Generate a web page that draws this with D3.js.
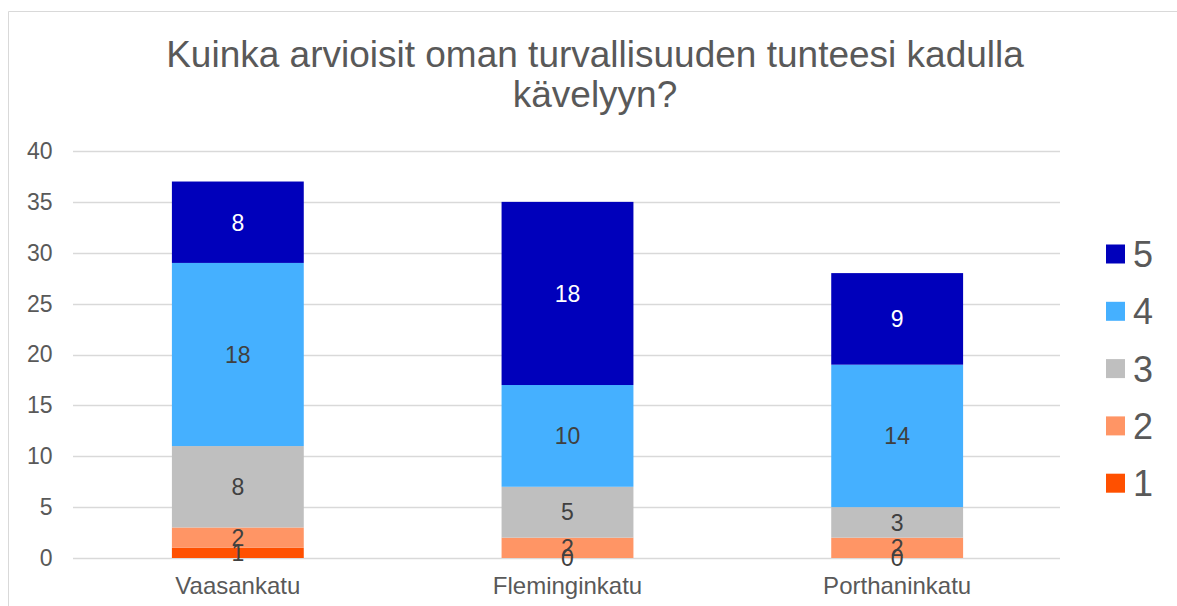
<!DOCTYPE html>
<html>
<head>
<meta charset="utf-8">
<script src="https://cdn.jsdelivr.net/npm/d3@7"></script>
<style>
  html, body { margin: 0; padding: 0; background: #fff; }
  svg { display: block; font-family: Arial, "Liberation Sans", sans-serif; }
</style>
</head>
<body>
<svg id="chart" width="1177" height="606"></svg>
<script>
// Streets and the answer counts for each rating 1..5
const streets = ["Vaasankatu", "Fleminginkatu", "Porthaninkatu"];
const ratings = ["1", "2", "3", "4", "5"];
const rating1 = [1, 0, 0];
const rating2 = [2, 2, 2];
const rating3 = [8, 5, 3];
const rating4 = [18, 10, 14];
const rating5 = [8, 18, 9];
const yTicks = [0, 5, 10, 15, 20, 25, 30, 35, 40];
const titleLines = ["Kuinka arvioisit oman turvallisuuden tunteesi kadulla", "kävelyyn?"];

const seriesValues = [rating1, rating2, rating3, rating4, rating5];
const colors = ["#FF5000", "#FF9565", "#BFBFBF", "#45B0FF", "#0000BB"];
const labelColors = ["#404040", "#404040", "#404040", "#404040", "#FFFFFF"];
const FONT = "Arial, 'Liberation Sans', sans-serif";

const rows = streets.map((s, i) => {
  const r = { street: s };
  ratings.forEach((k, j) => r[k] = seriesValues[j][i]);
  return r;
});
const stacked = d3.stack().keys(ratings)(rows);

const svg = d3.select("#chart");

// chart frame
svg.append("path")
  .attr("d", "M8.5,606 L8.5,11.5 L1177,11.5")
  .attr("fill", "none").attr("stroke", "#D9D9D9").attr("stroke-width", 1);

const x = d3.scaleBand().domain(streets).range([73, 1062]).paddingInner(0.6).paddingOuter(0.3);
const y = d3.scaleLinear().domain([0, 40]).range([558, 151]);

// gridlines
svg.append("g")
  .selectAll("line").data(yTicks).join("line")
  .attr("x1", 73).attr("x2", 1060)
  .attr("y1", d => Math.round(y(d)) + 0.5).attr("y2", d => Math.round(y(d)) + 0.5)
  .attr("stroke", "#D9D9D9").attr("stroke-width", 1.3);

// y axis labels
const yAxis = d3.axisLeft(y).tickValues(yTicks).tickSize(0).tickPadding(0);
const yg = svg.append("g").attr("transform", "translate(52.5,0)").call(yAxis);
yg.select(".domain").remove();
yg.selectAll("text").attr("fill", "#595959").attr("font-size", 23).attr("font-family", FONT);

// x axis labels
const xAxis = d3.axisBottom(x).tickSize(0).tickPadding(0);
const xg = svg.append("g").attr("transform", "translate(0,577)").call(xAxis);
xg.select(".domain").remove();
xg.selectAll("text").attr("fill", "#595959").attr("font-size", 24).attr("font-family", FONT);

// stacked bars
const layers = svg.append("g").selectAll("g").data(stacked).join("g")
  .attr("fill", (d, i) => colors[i]);
layers.selectAll("rect").data(d => d).join("rect")
  .attr("x", d => x(d.data.street))
  .attr("width", x.bandwidth())
  .attr("y", d => y(d[1]))
  .attr("height", d => y(d[0]) - y(d[1]));

// value labels, centred in each segment
const labels = svg.append("g");
stacked.forEach((layer, i) => {
  labels.selectAll(null).data(layer).join("text")
    .attr("x", d => x(d.data.street) + x.bandwidth() / 2)
    .attr("y", d => y((d[0] + d[1]) / 2))
    .attr("dy", "0.36em")
    .attr("text-anchor", "middle")
    .attr("font-size", 23)
    .attr("fill", labelColors[i])
    .text(d => d[1] - d[0]);
});

// title
svg.append("text")
  .attr("text-anchor", "middle")
  .attr("fill", "#595959").attr("font-size", 37)
  .selectAll("tspan").data(titleLines).join("tspan")
  .attr("x", 595).attr("y", (d, i) => 67 + i * 40)
  .text(d => d);

// legend (highest rating on top)
const legendItems = ratings.slice().reverse();
const lg = svg.append("g").selectAll("g").data(legendItems).join("g")
  .attr("transform", (d, i) => `translate(1106,${254 + i * 57.3})`);
lg.append("rect").attr("x", 0).attr("y", -9.5).attr("width", 19).attr("height", 19)
  .attr("fill", d => colors[ratings.indexOf(d)]);
lg.append("text").attr("x", 27).attr("dy", "0.36em")
  .attr("font-size", 36).attr("fill", "#595959").text(d => d);
</script>
</body>
</html>
